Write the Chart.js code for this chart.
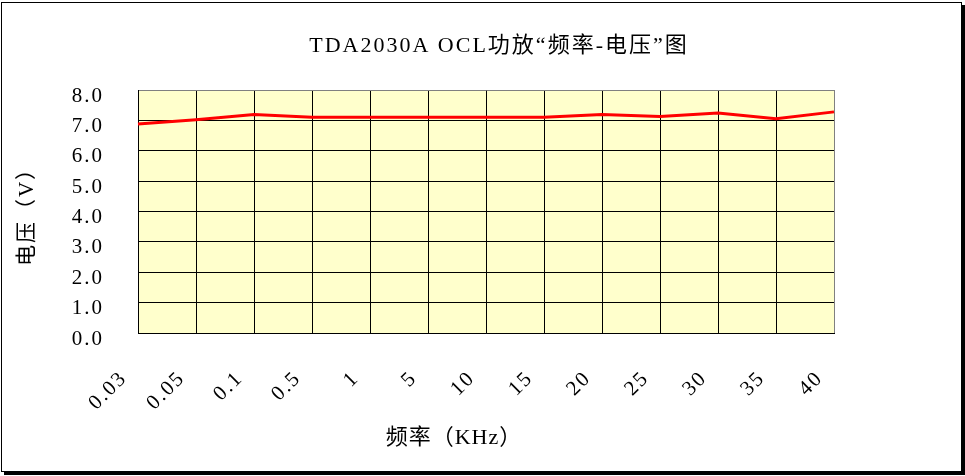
<!DOCTYPE html>
<html>
<head>
<meta charset="utf-8">
<script src="https://cdn.jsdelivr.net/npm/chart.js@4/dist/chart.umd.min.js"></script>
<style>
  html, body { margin: 0; padding: 0; background: #fff; }
  #frame { position: absolute; left: 1px; top: 2px; width: 959px; height: 468px; border: 1px solid #000; box-shadow: 3px 3px 0 #000; }
  #wrap { position: absolute; left: 0; top: 0; width: 965px; height: 476px; }
</style>
</head>
<body>
<div id="frame"></div>
<div id="wrap"><canvas id="chart-freq"></canvas></div>
<script>
// categories (KHz) and measured voltage (V)
var freqLabels = ['0.03', '0.05', '0.1', '0.5', '1', '5', '10', '15', '20', '25', '30', '35', '40'];
var voltage = [6.88, 7.02, 7.19, 7.1, 7.1, 7.1, 7.1, 7.1, 7.19, 7.13, 7.24, 7.05, 7.28];
var yTicks = [0, 1, 2, 3, 4, 5, 6, 7, 8];

var chartTitle = 'TDA2030A OCL功放“频率-电压”图';
var xTitle = '频率（KHz）';
var yTitle = '电压（V）';

var serif = "'Liberation Serif', 'Noto Sans CJK SC', serif";

// plot background + the two titles
var plotDecor = {
  id: 'plotDecor',
  beforeDraw: function (chart) {
    var a = chart.chartArea, ctx = chart.ctx;
    ctx.save();
    ctx.fillStyle = '#FFFFCC';
    ctx.fillRect(a.left, a.top, a.right - a.left, a.bottom - a.top);
    ctx.restore();
    // a bit of extra spacing like the original (SimSun) labels
    ctx.letterSpacing = '2px';
  },
  afterDraw: function (chart) {
    var ctx = chart.ctx;
    ctx.save();
    ctx.fillStyle = '#000';
    ctx.textAlign = 'center';
    ctx.textBaseline = 'middle';
    ctx.letterSpacing = '2px';
    ctx.font = '22px ' + serif;
    ctx.fillText(chartTitle, 499, 46);
    ctx.letterSpacing = '1px';
    ctx.font = '22px ' + serif;
    ctx.fillText(xTitle, 454, 438);
    ctx.restore();
    ctx.letterSpacing = '0px';
  }
};

const config = {
  type: 'line',
  data: {
    labels: freqLabels,
    datasets: [{
      data: voltage,
      borderColor: '#FF0000',
      borderWidth: 3,
      pointRadius: 0,
      tension: 0,
      fill: false
    }]
  },
  options: {
    responsive: true,
    maintainAspectRatio: false,
    animation: false,
    layout: { padding: { top: 90, right: 131, left: 0, bottom: 0 } },
    plugins: {
      legend: { display: false },
      tooltip: { enabled: false }
    },
    scales: {
      x: {
        offset: false,
        grid: {
          color: (c) => c.index === freqLabels.length - 1 ? '#808080' : '#000',
          lineWidth: 1,
          drawTicks: false
        },
        border: { color: '#000', width: 1 },
        ticks: {
          color: '#000',
          font: { family: serif, size: 21 },
          minRotation: 45,
          maxRotation: 45,
          autoSkip: false,
          padding: 33,
          labelOffset: -14
        },
        afterFit: (scale) => { scale.height = 143; }
      },
      y: {
        min: 0,
        max: 8,
        afterBuildTicks: (scale) => { scale.ticks = yTicks.map((v) => ({ value: v })); },
        grid: {
          color: (c) => c.tick && c.tick.value === 8 ? '#808080' : '#000',
          lineWidth: 1,
          drawTicks: false
        },
        border: { color: '#000', width: 1 },
        ticks: {
          color: '#000',
          font: { family: serif, size: 21 },
          padding: 34,
          labelOffset: 6,
          callback: (v) => Number(v).toFixed(1)
        },
        title: {
          display: true,
          text: yTitle,
          color: '#000',
          font: { family: serif, size: 21 },
          padding: { top: 15, bottom: 0 }
        },
        afterFit: (scale) => { scale.width = 138; }
      }
    }
  },
  plugins: [plotDecor]
};

const myChart = new Chart(document.getElementById('chart-freq'), config);
</script>
</body>
</html>
